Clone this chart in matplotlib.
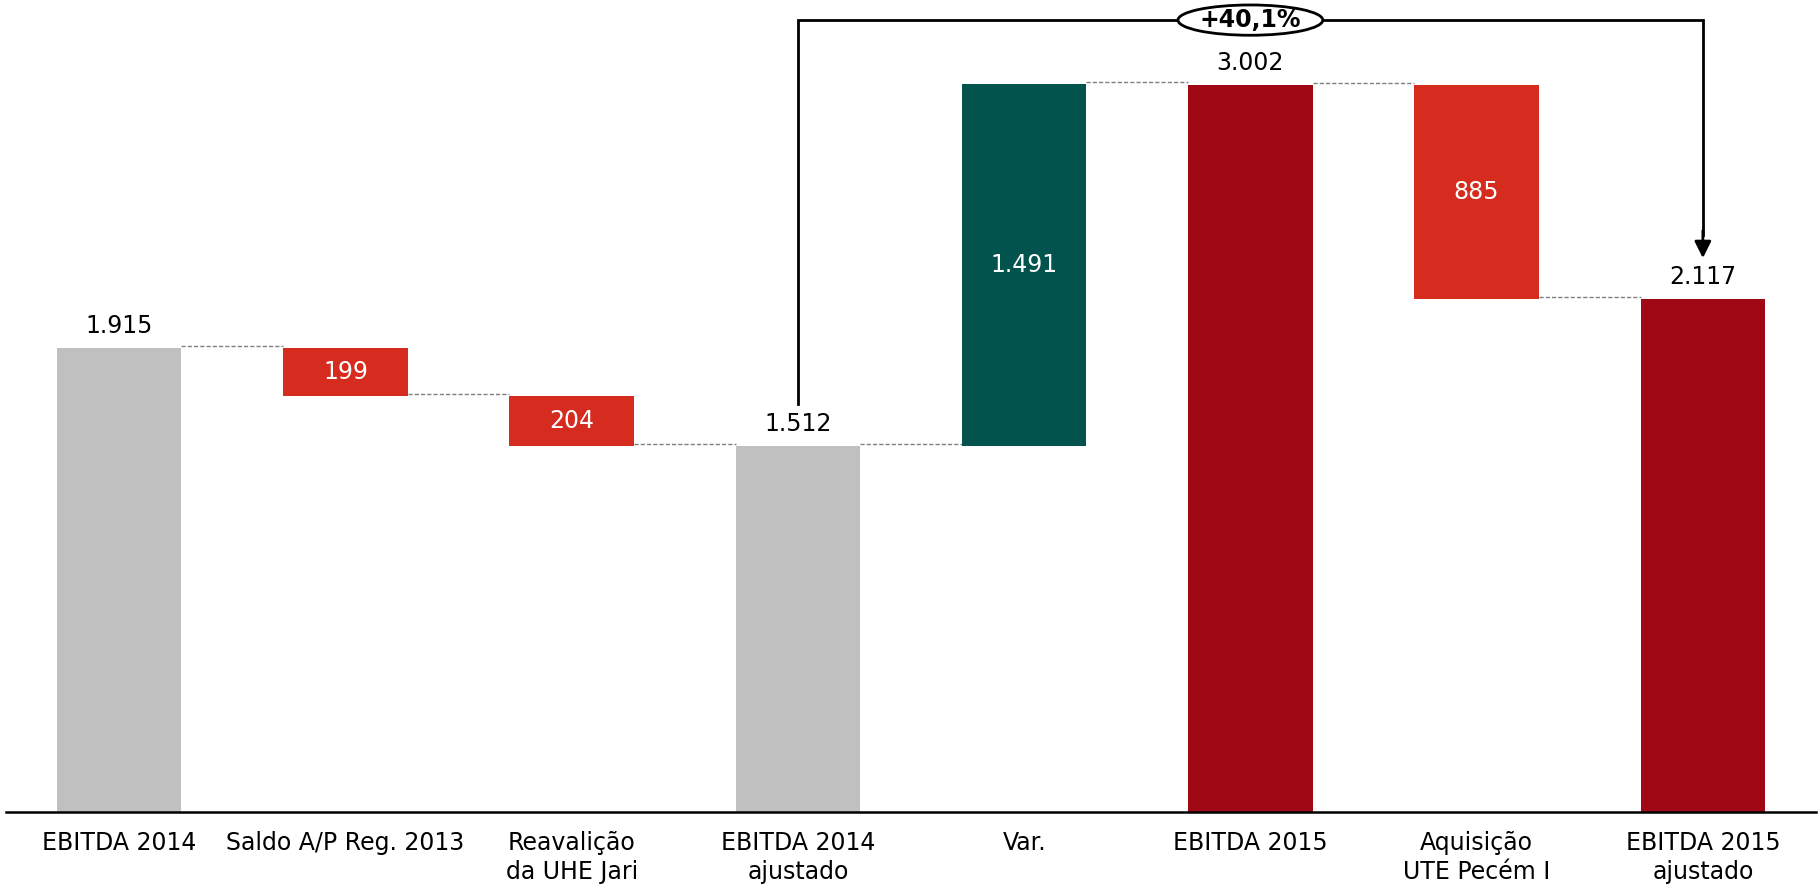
import matplotlib.pyplot as plt
from matplotlib.patches import Ellipse

# Data
categories = ["EBITDA 2014", "Saldo A/P Reg. 2013", "Reavalição\nda UHE Jari",
              "EBITDA 2014\najustado", "Var.", "EBITDA 2015",
              "Aquisição\nUTE Pecém I", "EBITDA 2015\najustado"]
values = [1915, -199, -204, 1512, 1491, 3002, -885, 2117]
is_total = [True, False, False, True, False, True, False, True]
colors = ["#C0C0C0", "#D62B1F", "#D62B1F", "#C0C0C0", "#02524E",
          "#A00815", "#D62B1F", "#A00815"]
growth_label = "+40,1%"


def fmt(v):
    return "{:,}".format(abs(v)).replace(",", ".")


fig = plt.figure(figsize=(18.2, 8.86), dpi=100)
ax = fig.add_axes([0.0033, 0.0835, 0.9945, 0.9165])

bottoms = []
heights = []
running = 0
for v, tot in zip(values, is_total):
    if tot:
        bottoms.append(0)
        heights.append(v)
        running = v
    else:
        if v >= 0:
            bottoms.append(running)
            heights.append(v)
        else:
            bottoms.append(running + v)
            heights.append(-v)
        running += v

x = list(range(len(values)))
w = 0.55
ax.bar(x, heights, bottom=bottoms, width=w, color=colors, zorder=2)

# connectors
levels = []
running = 0
for v, tot in zip(values, is_total):
    running = v if tot else running + v
    levels.append(running)
for i in range(len(values) - 1):
    ax.plot([i + w / 2, i + 1 - w / 2], [levels[i] + 8, levels[i] + 8],
            color="#808080", lw=1, ls=(0, (3, 1.5)), zorder=1)

# labels
for i, (v, tot) in enumerate(zip(values, is_total)):
    if tot:
        ax.annotate(fmt(v), (i, v), xytext=(0, 7), textcoords="offset points",
                    ha="center", va="bottom", fontsize=17, color="black")
    else:
        ax.text(i, bottoms[i] + heights[i] / 2, fmt(v), ha="center",
                va="center", fontsize=17, color="white")

# growth bracket
y_top = 3268
ax.plot([3, 3, 7, 7], [1684, y_top, y_top, 2380], color="black", lw=2,
        solid_joinstyle="miter", zorder=3)
ax.annotate("", xy=(7, 2286), xytext=(7, 2400),
            arrowprops=dict(arrowstyle="-|>", color="black", lw=2,
                            mutation_scale=25, shrinkA=0, shrinkB=0))
ax.add_patch(Ellipse((5, y_top), 0.64, 125, facecolor="white",
                     edgecolor="black", lw=2, zorder=4))
ax.text(5, y_top, growth_label, ha="center", va="center", fontsize=17,
        fontweight="bold", zorder=5)

ax.set_xlim(-0.5, 7.5)
ax.set_ylim(0, 3351)
ax.set_xticks(x)
ax.set_xticklabels(categories, fontsize=17, linespacing=1.25)
ax.tick_params(axis="x", length=0, pad=14)
ax.set_yticks([])
for s in ["top", "right", "left"]:
    ax.spines[s].set_visible(False)
ax.spines["bottom"].set_linewidth(1.8)

fig.savefig("out.png", dpi=100)
